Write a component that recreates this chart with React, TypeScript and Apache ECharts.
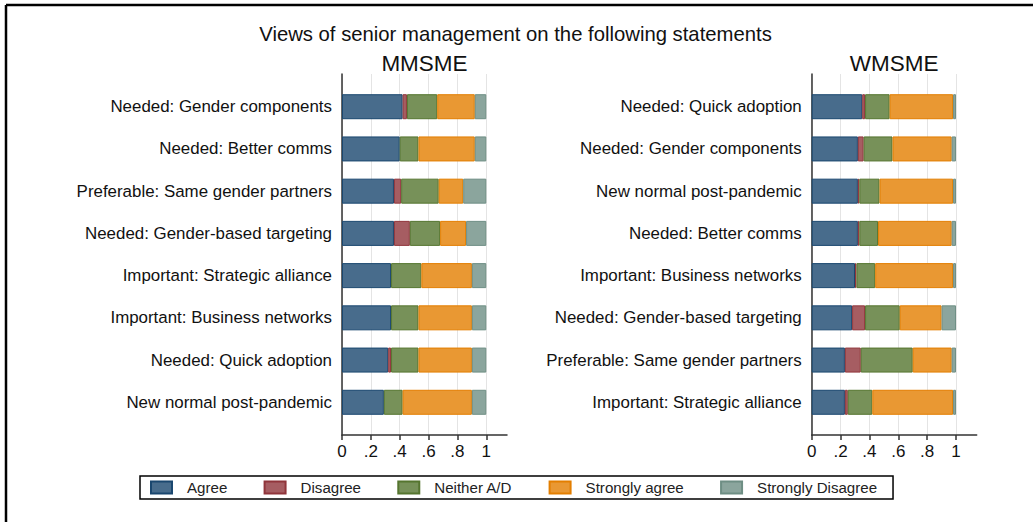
import React, { useEffect, useRef } from "react";
import * as echarts from "echarts";

const FONT = "'Liberation Sans', Arial, Helvetica, sans-serif";

const levels = ["Agree", "Disagree", "Neither A/D", "Strongly agree", "Strongly Disagree"];
const fillColors = ["#486c8c", "#a65d62", "#779159", "#e99833", "#8ba59d"];
const lineColors = ["#1a476f", "#90353b", "#55752f", "#e37e00", "#6e8e84"];

const tickValues = [0, 0.2, 0.4, 0.6, 0.8, 1];

// MMSME panel (top to bottom)
const mmsmeCategories = [
  "Needed: Gender components",
  "Needed: Better comms",
  "Preferable: Same gender partners",
  "Needed: Gender-based targeting",
  "Important: Strategic alliance",
  "Important: Business networks",
  "Needed: Quick adoption",
  "New normal post-pandemic",
];
const mmsmeAgree = [0.42, 0.4, 0.36, 0.36, 0.34, 0.34, 0.32, 0.29];
const mmsmeDisagree = [0.03, 0, 0.05, 0.11, 0, 0, 0.02, 0];
const mmsmeNeither = [0.21, 0.13, 0.26, 0.21, 0.21, 0.19, 0.19, 0.13];
const mmsmeStronglyAgree = [0.26, 0.39, 0.17, 0.18, 0.35, 0.37, 0.37, 0.48];
const mmsmeStronglyDisagree = [0.08, 0.08, 0.16, 0.14, 0.1, 0.1, 0.1, 0.1];

// WMSME panel (top to bottom)
const wmsmeCategories = [
  "Needed: Quick adoption",
  "Needed: Gender components",
  "New normal post-pandemic",
  "Needed: Better comms",
  "Important: Business networks",
  "Needed: Gender-based targeting",
  "Preferable: Same gender partners",
  "Important: Strategic alliance",
];
const wmsmeAgree = [0.35, 0.32, 0.32, 0.32, 0.3, 0.28, 0.23, 0.23];
const wmsmeDisagree = [0.02, 0.04, 0.01, 0.01, 0.01, 0.09, 0.11, 0.02];
const wmsmeNeither = [0.17, 0.2, 0.14, 0.13, 0.13, 0.24, 0.36, 0.17];
const wmsmeStronglyAgree = [0.44, 0.41, 0.51, 0.51, 0.54, 0.29, 0.27, 0.56];
const wmsmeStronglyDisagree = [0.02, 0.03, 0.02, 0.03, 0.02, 0.1, 0.03, 0.02];

const mmsmeSeries = [mmsmeAgree, mmsmeDisagree, mmsmeNeither, mmsmeStronglyAgree, mmsmeStronglyDisagree];
const wmsmeSeries = [wmsmeAgree, wmsmeDisagree, wmsmeNeither, wmsmeStronglyAgree, wmsmeStronglyDisagree];

const X_MAX = 1.1435;
const fmtTick = (v: number) => (v === 0 ? "0" : v === 1 ? "1" : String(+v.toFixed(1)).replace(/^0/, ""));

function buildOption() {
  const panels = [
    { left: 342, cats: mmsmeCategories, data: mmsmeSeries, stack: "m" },
    { left: 811.7, cats: wmsmeCategories, data: wmsmeSeries, stack: "w" },
  ];
  const grid: any[] = [];
  const xAxis: any[] = [];
  const yAxis: any[] = [];
  const series: any[] = [];
  panels.forEach((p, pi) => {
    const dataIdx = pi * 2;
    const frameIdx = pi * 2 + 1;
    grid.push({ left: p.left, width: 165, top: 85.6, height: 337.8, containLabel: false });
    grid.push({ left: p.left, width: 165, top: 74, height: 361, containLabel: false });
    xAxis.push({
      gridIndex: dataIdx,
      type: "value",
      min: 0,
      max: X_MAX,
      show: false,
    });
    xAxis.push({
      gridIndex: frameIdx,
      type: "value",
      min: 0,
      max: X_MAX,
      axisLine: { show: true, onZero: false, lineStyle: { color: "#333", width: 1.5 } },
      axisTick: { show: true, length: 5, customValues: tickValues, lineStyle: { color: "#333", width: 1.5 } },
      axisLabel: { customValues: tickValues, formatter: fmtTick, fontSize: 17, color: "#111", margin: 8, fontFamily: FONT },
      splitLine: { show: true, lineStyle: { color: "#e4e4e4", width: 1 } },
    });
    yAxis.push({
      gridIndex: dataIdx,
      type: "category",
      data: p.cats,
      inverse: true,
      axisLine: { show: false },
      axisTick: { show: false },
      splitLine: { show: false },
      axisLabel: { fontSize: 16.9, color: "#111", margin: 10, fontFamily: FONT },
    });
    yAxis.push({
      gridIndex: frameIdx,
      type: "value",
      min: 0,
      max: 1,
      axisLine: { show: true, onZero: false, lineStyle: { color: "#333", width: 1.5 } },
      axisTick: { show: false },
      axisLabel: { show: false },
      splitLine: { show: false },
    });
    p.data.forEach((vals, li) => {
      series.push({
        name: levels[li],
        type: "bar",
        stack: p.stack,
        xAxisIndex: dataIdx,
        yAxisIndex: dataIdx,
        barWidth: 25,
        data: vals.map((v) => (v === 0 ? null : v)),
        itemStyle: { color: fillColors[li], borderColor: lineColors[li], borderWidth: 1 },
        emphasis: { disabled: true },
      });
    });
  });

  return {
    animation: false,
    backgroundColor: "#ffffff",
    textStyle: { fontFamily: FONT },
    grid,
    xAxis,
    yAxis,
    series,
    legend: {
      data: levels,
      icon: "rect",
      left: 140,
      top: 476,
      orient: "horizontal",
      padding: [4, 16, 4, 10],
      itemGap: 36.3,
      itemWidth: 21,
      itemHeight: 12,
      borderColor: "#000",
      borderWidth: 1.5,
      selectedMode: false,
      textStyle: { fontSize: 15.1, color: "#222", fontFamily: FONT, padding: [0, 0, 0, 10] },
    },
    graphic: [
      { type: "line", shape: { x1: 6, y1: 5, x2: 1040, y2: 5 }, style: { stroke: "#000", lineWidth: 2.5 } },
      { type: "line", shape: { x1: 6, y1: 5, x2: 6, y2: 530 }, style: { stroke: "#000", lineWidth: 2.5 } },
      {
        type: "text",
        x: 515.5,
        y: 34,
        style: { text: "Views of senior management on the following statements", fontSize: 20.3, fontFamily: FONT, fill: "#111", align: "center", verticalAlign: "middle" },
      },
      {
        type: "text",
        x: 424.5,
        y: 63,
        style: { text: "MMSME", fontSize: 22.5, fontFamily: FONT, fill: "#111", align: "center", verticalAlign: "middle" },
      },
      {
        type: "text",
        x: 894.2,
        y: 63,
        style: { text: "WMSME", fontSize: 22.5, fontFamily: FONT, fill: "#111", align: "center", verticalAlign: "middle" },
      },
    ],
  };
}

export default function App() {
  const ref = useRef<HTMLDivElement>(null);
  useEffect(() => {
    if (!ref.current) return;
    const chart = echarts.init(ref.current, undefined, { renderer: "svg" });
    chart.setOption(buildOption() as any);
    return () => chart.dispose();
  }, []);
  return (
    <div
      ref={ref}
      style={{ position: "fixed", left: 0, top: 0, width: 1033, height: 522, background: "#fff" }}
    />
  );
}
